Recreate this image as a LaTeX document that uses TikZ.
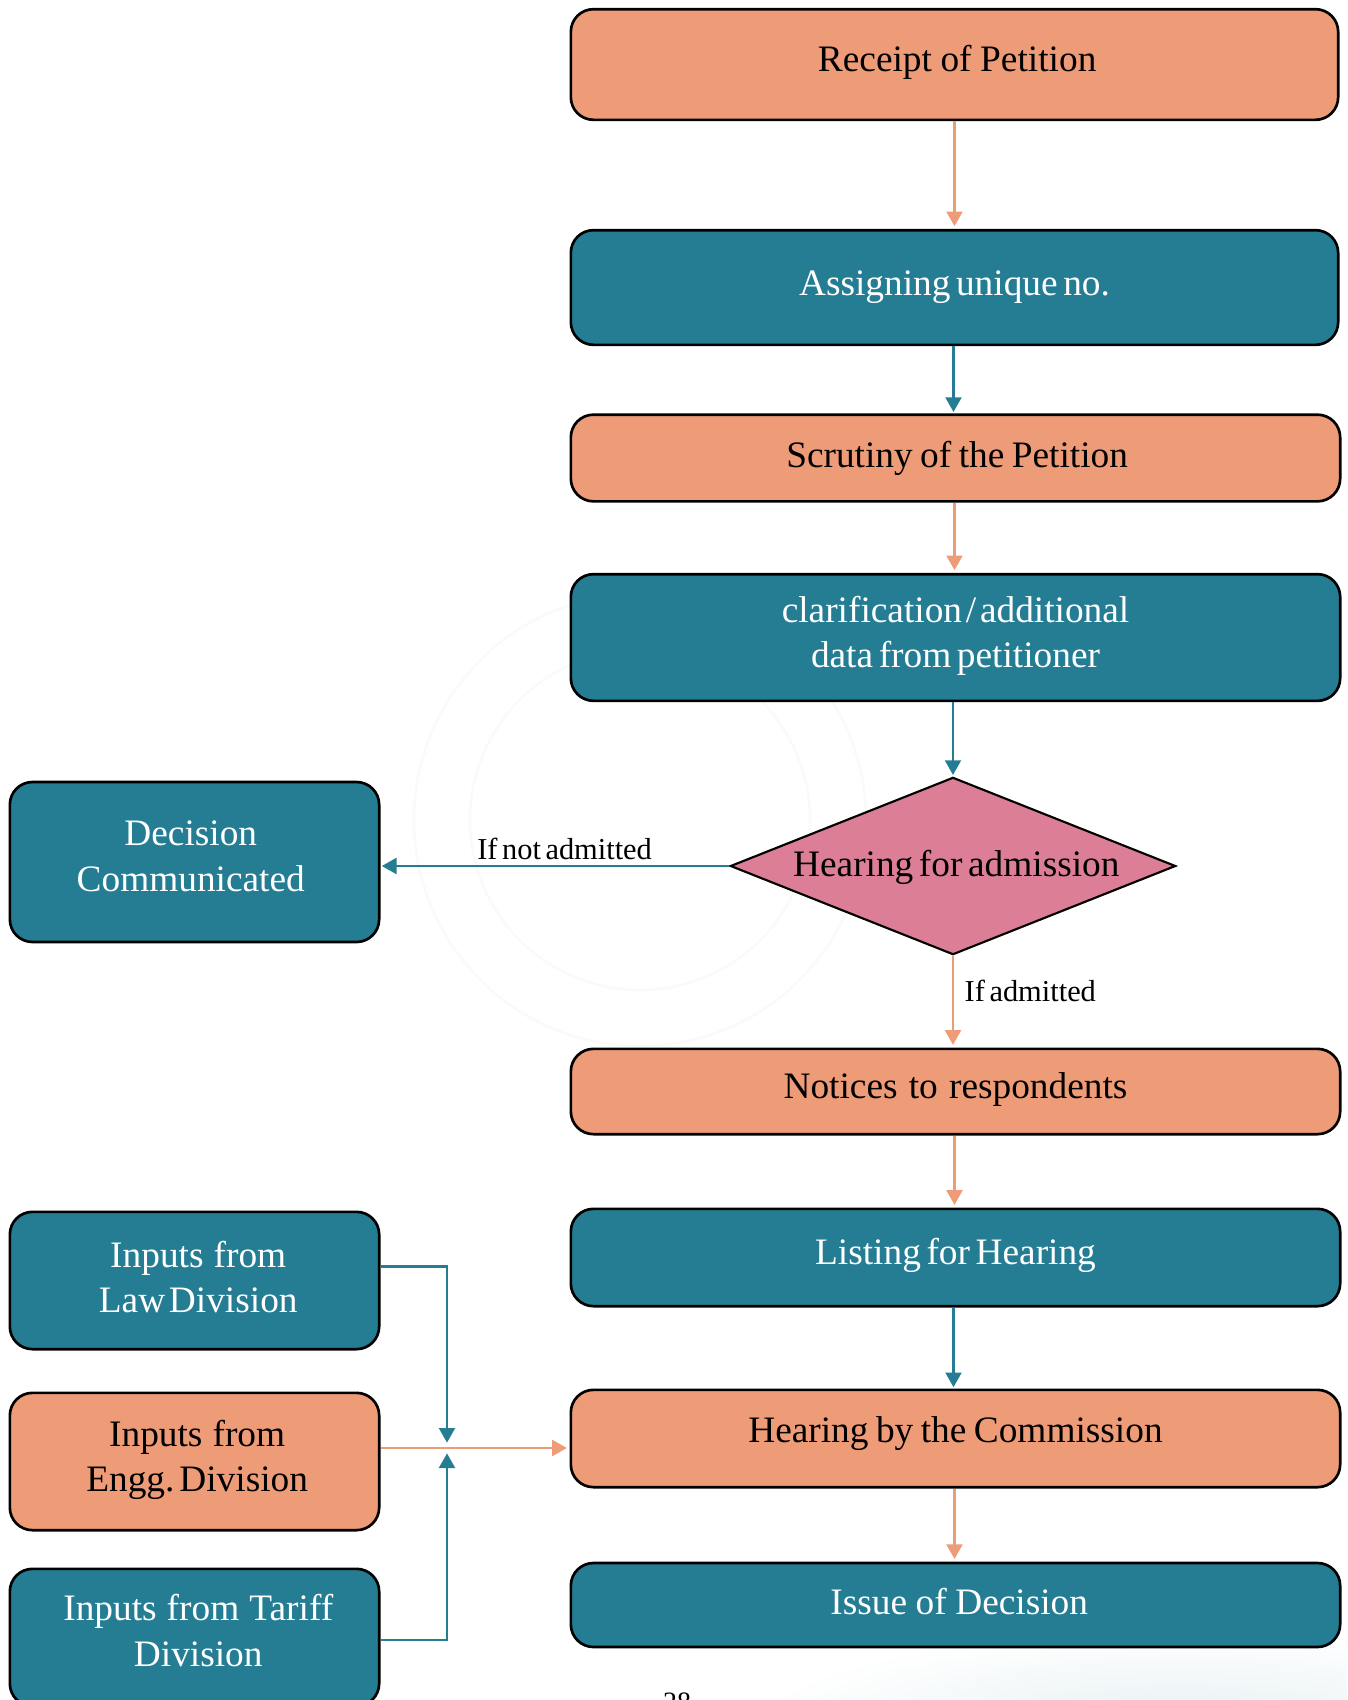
\documentclass[tikz,border=0pt]{standalone}
\usepackage{fontspec}
\setmainfont{Liberation Serif}[WordSpace=0.6]
\usetikzlibrary{shapes.geometric,arrows.meta}
\definecolor{boxorange}{RGB}{238,155,120}
\definecolor{boxteal}{RGB}{37,125,148}
\definecolor{boxpink}{RGB}{220,127,150}
\newcommand{\gap}[1]{\spaceskip=#1em\relax}
\begin{document}
\begin{tikzpicture}[x=.75pt,y=-.75pt,
    box/.style={draw=black,line width=2pt,rounded corners=17pt,inner sep=0pt,align=center,
      font=\fontsize{28}{34}\selectfont},
    orangebox/.style={box,fill=boxorange,text=black},
    tealbox/.style={box,fill=boxteal,text=white},
    wide/.style={minimum width=577pt},
    narrow/.style={minimum width=277pt},
    base/.style={text height=#1,text depth=0pt},
    orangeline/.style={draw=boxorange,line width=1.6pt,-{Triangle[length=11pt,width=12pt]},shorten >=2pt},
    tealline/.style={draw=boxteal,line width=1.6pt,-{Triangle[length=11pt,width=12pt]},shorten >=1pt},
    tag/.style={font=\fontsize{22.8}{27}\selectfont,inner sep=0pt}]

        \useasboundingbox (0,0) rectangle (1347,1700);
        \clip (0,0) rectangle (1347,1700);

        % faint seal and corner wash behind the chart
        \draw[black!2,line width=2pt] (640,820) circle (226);
        \draw[black!2,line width=2pt] (640,820) circle (170);
        \shade[inner color=boxteal!11!white,outer color=white] (1180,1725) ellipse (430 and 95);

        \coordinate (orangeaxis) at (954.5,0);
        \coordinate (tealaxis) at (953.5,0);
        \coordinate (merge) at (447,1448);

        \node[orangebox,minimum width=575.5pt,minimum height=83pt,base=10.6pt] (receipt) at (954.5,64.5) {\hspace*{4pt}\gap{.23}Receipt of Petition};
        \node[tealbox,minimum width=575.5pt,minimum height=86pt,base=12pt] (assign) at (954.5,287.5) {Assigning unique no.};
        \node[orangebox,wide,minimum height=65pt,base=13.5pt] (scrutiny) at (955.5,458) {\hspace*{2.5pt}\gap{.2}Scrutiny of the Petition};
        \node[tealbox,wide,minimum height=95pt,base=45pt] (clarify) at (955.5,637.5) {\gap{.1}clarification / additional\\data from petitioner};
        \node[draw=black,line width=1.6pt,fill=boxpink,diamond,inner sep=0pt,minimum width=334pt,minimum height=133pt,
          font=\fontsize{28}{34}\selectfont,text height=15.6pt,text depth=0pt] (admission) at (953,866) {\makebox[0pt]{\hspace*{5pt}Hearing for admission}};
        \node[orangebox,wide,minimum height=64pt,base=10pt] (notices) at (955.5,1091.5) {\gap{.3}Notices to respondents};
        \node[tealbox,wide,minimum height=73pt,base=10.5pt] (listing) at (955.5,1257.5) {Listing for Hearing};
        \node[orangebox,wide,minimum height=73pt,base=5.5pt] (hearing) at (955.5,1438.5) {\gap{.2}Hearing by the Commission};
        \node[tealbox,wide,minimum height=63pt,base=13.5pt] (issue) at (955.5,1605) {\hspace*{5.6pt}\gap{.23}Issue of Decision};

        \node[tealbox,narrow,minimum height=120pt,base=43.6pt] (decision) at (194.5,862) {Decision\hspace*{5.6pt}\\Communicated\hspace*{5.6pt}};
        \node[tealbox,narrow,minimum height=103pt,base=48pt] (law) at (194.5,1280.5) {\hspace*{5.6pt}{\gap{.27}Inputs from}\\\hspace*{5.6pt}\gap{.1}Law Division};
        \node[orangebox,narrow,minimum height=103pt,base=45pt] (engg) at (194.5,1461.5) {\hspace*{4pt}{\gap{.27}Inputs from}\\\hspace*{4pt}\gap{.05}Engg. Division};
        \node[tealbox,narrow,minimum height=103pt,base=43pt] (tariff) at (194.5,1637.5) {\hspace*{5.6pt}{\gap{.27}Inputs from Tariff}\\\hspace*{5.6pt}Division};

        \node[font=\fontsize{21}{25}\selectfont,anchor=base,inner sep=0pt] (page) at (677,1711) {28};

        \begin{scope}[every edge/.style={orangeline}]
          \path (orangeaxis |- receipt.south) edge (orangeaxis |- assign.north);
          \path (orangeaxis |- scrutiny.south) edge (orangeaxis |- clarify.north);
          \path (orangeaxis |- notices.south) edge (orangeaxis |- listing.north);
          \path (orangeaxis |- hearing.south) edge (orangeaxis |- issue.north);
          \path (admission.south) edge node[tag,right=8pt,pos=.38] (yes) {If admitted} (admission.south |- notices.north);
          \path (engg.east |- merge) edge (hearing.west |- merge);
        \end{scope}

        \begin{scope}[every edge/.style={tealline}]
          \path (tealaxis |- assign.south) edge (tealaxis |- scrutiny.north);
          \path (admission.north |- clarify.south) edge (admission.north);
          \path (tealaxis |- listing.south) edge (tealaxis |- hearing.north);
          \path (admission.west) edge node[tag,above=4pt,pos=.5,xshift=7.3pt] (no) {If not admitted} (admission.west -| decision.east);
        \end{scope}

        \draw[tealline,shorten >=4pt] ([yshift=10.5pt]law.east) -| (merge);
        \draw[tealline,shorten >=4pt] ([yshift=-2pt]tariff.east) -| (merge);

      \end{tikzpicture}
\end{document}
